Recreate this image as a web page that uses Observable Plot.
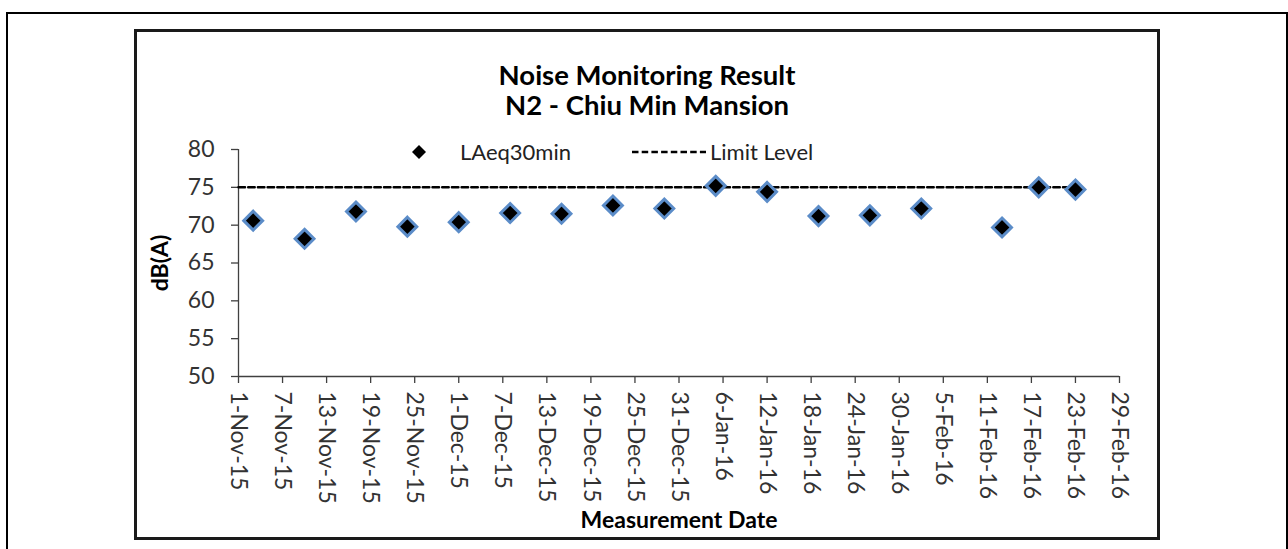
<!DOCTYPE html>
<html>
<head>
<meta charset="utf-8">
<script src="https://cdn.jsdelivr.net/npm/d3@7"></script>
<script src="https://cdn.jsdelivr.net/npm/@observablehq/plot@0.6"></script>
<style>
  html, body { margin: 0; padding: 0; background: #fff; }
  body { width: 1288px; height: 549px; overflow: hidden; position: relative; font-family: Lato, "Open Sans", sans-serif; }
  #outer { position: absolute; left: 6px; top: 12px; width: 1282px; height: 600px; border: 2px solid #000; box-sizing: border-box; }
  #inner { position: absolute; left: 134px; top: 29px; width: 1026px; height: 511px; border: 3px solid #1a1a1a; box-sizing: border-box; }
  #chart { position: absolute; left: 0; top: 0; }
  .title { position: absolute; left: 134px; width: 1026px; text-align: center; font-weight: bold; font-size: 27.5px; color: #000; line-height: 1; white-space: nowrap; }
  .leg { position: absolute; font-size: 22px; color: #222; line-height: 1; white-space: nowrap; }
  .sw { position: absolute; }
</style>
</head>
<body>
<div id="outer"></div>
<div id="inner"></div>
<div id="chart"></div>
<div class="title" id="t1" style="top:61px">Noise Monitoring Result</div>
<div class="title" id="t2" style="top:91px">N2 - Chiu Min Mansion</div>
<svg class="sw" style="left:410px;top:143px" width="18" height="18"><polygon points="9,2 16,9 9,16 2,9" fill="#000"/></svg>
<div class="leg" style="left:460px;top:141px">LAeq30min</div>
<svg class="sw" style="left:630px;top:148px" width="78" height="8"><line x1="2" y1="4" x2="76" y2="4" stroke="#000" stroke-width="2.5" stroke-dasharray="6.5,3.2"/></svg>
<div class="leg" style="left:710px;top:141px">Limit Level</div>
<script>
const dates = ["2015-11-03","2015-11-10","2015-11-17","2015-11-24","2015-12-01","2015-12-08","2015-12-15","2015-12-22","2015-12-29","2016-01-05","2016-01-12","2016-01-19","2016-01-26","2016-02-02","2016-02-13","2016-02-18","2016-02-23"];
const laeq = [70.6, 68.2, 71.8, 69.8, 70.4, 71.6, 71.5, 72.6, 72.2, 75.2, 74.4, 71.2, 71.3, 72.2, 69.7, 75.0, 74.7];
const limitDates = ["2015-11-01","2016-02-23"];
const limitValues = [75, 75];
const xTickLabels = ["2015-11-01","2015-11-07","2015-11-13","2015-11-19","2015-11-25","2015-12-01","2015-12-07","2015-12-13","2015-12-19","2015-12-25","2015-12-31","2016-01-06","2016-01-12","2016-01-18","2016-01-24","2016-01-30","2016-02-05","2016-02-11","2016-02-17","2016-02-23","2016-02-29"];
const yTicks = [50, 55, 60, 65, 70, 75, 80];

const data = dates.map((d, i) => ({date: new Date(d + "T00:00:00Z"), value: laeq[i]}));
const limit = limitDates.map((d, i) => ({date: new Date(d + "T00:00:00Z"), value: limitValues[i]}));
const xTicks = xTickLabels.map(d => new Date(d + "T00:00:00Z"));
const xDomain = [xTicks[0], xTicks[xTicks.length - 1]];
const fmt = d3.utcFormat("%-d-%b-%y");

const chart = Plot.plot({
  width: 1288,
  height: 549,
  marginLeft: 238,
  marginRight: 169,
  marginTop: 149,
  marginBottom: 173,
  style: {fontFamily: "Lato, 'Open Sans', sans-serif", fontSize: "23px", color: "#333", background: "transparent", overflow: "visible"},
  x: {type: "utc", domain: xDomain},
  y: {domain: [50, 80]},
  marks: [
    Plot.axisX({ticks: xTicks, tickFormat: fmt, tickRotate: 90, tickSize: 7, tickPadding: 8, fontSize: 23, label: null, stroke: "#404040", strokeWidth: 1.3}),
    Plot.axisY({ticks: yTicks, tickSize: 7, tickPadding: 17, fontSize: 23, label: null, stroke: "#404040", strokeWidth: 1.3}),
    Plot.ruleY([50], {stroke: "#404040", strokeWidth: 1.3}),
    Plot.ruleX([xDomain[0]], {stroke: "#404040", strokeWidth: 1.3}),
    Plot.line(limit, {x: "date", y: "value", stroke: "#000", strokeWidth: 2.5, strokeDasharray: "6.5,3.2"}),
    Plot.dot(data, {x: "date", y: "value", symbol: "diamond2", r: 8.5, fill: "#000", stroke: "#5b8cc8", strokeWidth: 3}),
    Plot.text(["dB(A)"], {frameAnchor: "left", dx: -78, rotate: -90, fontWeight: "bold", fontSize: 23, fill: "#000", textAnchor: "middle"}),
    Plot.text(["Measurement Date"], {frameAnchor: "bottom", dy: 151, fontWeight: "bold", fontSize: 23, fill: "#000", textAnchor: "middle", lineAnchor: "bottom"})
  ]
});
document.getElementById("chart").appendChild(chart);
</script>
</body>
</html>
